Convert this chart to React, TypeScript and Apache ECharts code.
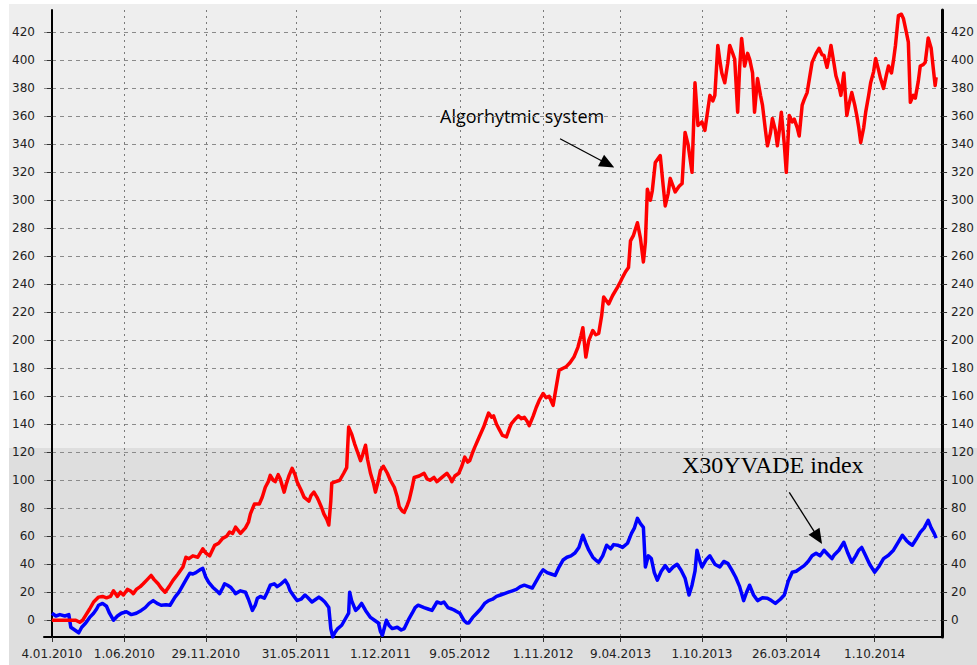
import React, { useEffect, useRef } from "react";
import * as echarts from "echarts";

// x = trading-session index (0 = 4.01.2010)
const tickPositions = [0, 73, 155, 246, 331, 411, 495, 573, 655, 740, 829];
const tickLabels = ["4.01.2010", "1.06.2010", "29.11.2010", "31.05.2011", "1.12.2011", "9.05.2012", "1.11.2012", "9.04.2013", "1.10.2013", "26.03.2014", "1.10.2014"];
const yTickValues = [0, 20, 40, 60, 80, 100, 120, 140, 160, 180, 200, 220, 240, 260, 280, 300, 320, 340, 360, 380, 400, 420];

// Algorithmic system (red)
const algoSession = [
  0, 8, 16, 24, 28, 31, 34, 38, 42, 47,
  51, 55, 59, 62, 66, 69, 72, 76, 79, 82,
  85, 89, 92, 96, 100, 103, 107, 110, 114, 118,
  122, 127, 132, 135, 138, 142, 147, 152, 155, 159,
  164, 168, 172, 176, 179, 182, 185, 190, 195, 198,
  200, 204, 209, 212, 215, 218, 220, 223, 225, 228,
  230, 234, 236, 239, 242, 245, 247, 251, 254, 259,
  261, 264, 267, 269, 272, 274, 277, 279, 281, 282,
  286, 290, 294, 297, 299, 302, 305, 308, 311, 313,
  316, 318, 321, 324, 326, 329, 331, 334, 338, 341,
  345, 348, 350, 353, 355, 358, 360, 363, 365, 370,
  375, 378, 381, 385, 388, 393, 398, 401, 403, 406,
  410, 413, 416, 419, 421, 424, 426, 430, 435, 438,
  440, 443, 445, 448, 451, 454, 458, 461, 463, 466,
  470, 473, 476, 479, 481, 485, 488, 491, 495, 498,
  501, 505, 508, 511, 515, 518, 522, 526, 530, 533,
  535, 538, 541, 545, 548, 551, 554, 556, 561, 565,
  570, 573, 575, 578, 581, 583, 586, 590, 593, 596,
  598, 600, 603, 605, 608, 611, 613, 616, 618, 621,
  623, 626, 628, 632, 635, 638, 641, 645, 648, 651,
  655, 658, 661, 663, 666, 668, 671, 673, 675, 678,
  681, 683, 686, 688, 691, 693, 695, 698, 701, 703,
  706, 708, 711, 714, 716, 719, 721, 724, 726, 729,
  731, 733, 735, 738, 740, 743, 746, 748, 751, 753,
  756, 758, 761, 764, 766, 770, 773, 776, 778, 781,
  783, 785, 788, 790, 793, 795, 798, 801, 803, 806,
  809, 811, 813, 815, 818, 820, 823, 825, 828, 830,
  833, 835, 838, 841, 843, 846, 848, 850, 852, 853,
  856, 858, 861, 863, 865, 868, 870, 873, 875, 878,
  880, 882, 883, 886, 888, 890, 891,
];
const algoValue = [
  0, 0, 0, 0, -1.5, 0, 3.5, 8, 13, 16.5,
  17, 16, 17, 21, 17, 20, 18, 22, 21, 19,
  22, 24, 26, 29, 32, 29, 26, 23, 20, 24,
  28.5, 33, 38, 45, 44, 46, 45, 51, 48, 46,
  53.5, 55, 58.5, 60, 63, 62, 66.5, 62, 66, 70,
  76, 83, 83, 88, 95, 99, 103.5, 100, 99, 104,
  101, 91.5, 97, 103.5, 108.5, 104, 99, 93, 88, 85,
  89, 91.5, 88, 85, 80, 76, 72, 68, 85, 98,
  99, 100, 105, 109, 138, 133, 126, 120, 114, 118,
  125, 115, 105, 98, 91.5, 100, 107, 110, 105, 100,
  95, 88, 81, 78, 77, 82, 86, 95, 102, 103,
  105, 101, 100, 102, 99, 102, 105, 102, 99, 103,
  105, 110, 116.5, 113, 114, 120, 123.5, 130, 138, 144,
  148, 145, 146, 140, 136, 132, 131, 137, 140.5, 143,
  146, 144, 145, 142, 139, 146, 152, 157, 162, 159,
  160, 153.5, 166, 178.5, 180, 181, 184, 188, 195, 203,
  209, 188, 200, 207, 204, 205, 218, 231, 226, 232,
  238, 242, 245, 249, 252, 271, 275, 284, 273, 256,
  270, 308, 300, 307, 327, 330, 332, 310, 296, 305,
  315.7, 310, 306, 310, 312, 348.5, 340, 320, 384, 353.5,
  356, 350, 365, 375, 371, 375, 410.7, 400, 391, 384,
  398, 410.7, 405, 401, 363, 395, 415.7, 396, 405, 401,
  391, 363, 387, 375, 368, 350, 339, 348, 358.5, 350,
  339, 350, 363, 340, 320, 360.7, 356, 358, 352, 346,
  368, 372, 377, 390, 398.6, 405, 408.6, 404, 403.6, 395,
  402, 410.7, 398, 389, 382, 375, 391, 360.7, 368, 377,
  368, 360.7, 352, 341.4, 352, 363, 375, 384, 392, 401.4,
  393, 387, 380, 390, 396, 391, 400, 410.7, 425, 432,
  433, 430, 420, 413, 370, 375, 373, 385, 396, 397,
  398.6, 410, 416, 408.6, 395, 382, 388,
];

// X30YVADE index (blue)
const indexSession = [
  0, 4, 8, 13, 17, 19, 23, 27, 30, 34,
  38, 42, 45, 47, 51, 55, 58, 62, 66, 70,
  75, 80, 85, 90, 94, 98, 102, 106, 110, 115,
  119, 124, 128, 132, 136, 139, 142, 145, 149, 152,
  155, 158, 162, 166, 169, 172, 174, 177, 180, 183,
  185, 190, 195, 198, 202, 205, 207, 210, 214, 217,
  220, 224, 227, 231, 235, 238, 240, 244, 247, 251,
  255, 258, 262, 266, 269, 272, 275, 279, 281, 283,
  285, 288, 292, 296, 299, 300, 302, 306, 309, 312,
  316, 321, 325, 329, 331, 333, 337, 340, 343, 348,
  352, 355, 359, 363, 366, 369, 375, 379, 383, 388,
  392, 395, 399, 403, 406, 411, 415, 418, 420, 424,
  428, 432, 436, 440, 444, 448, 452, 456, 460, 464,
  468, 472, 476, 480, 484, 488, 492, 495, 499, 503,
  507, 511, 515, 519, 523, 527, 531, 535, 538, 541,
  545, 548, 551, 555, 559, 563, 566, 570, 575, 580,
  584, 587, 590, 593, 596, 598, 601, 604, 607, 610,
  614, 618, 622, 626, 630, 634, 638, 642, 645, 648,
  650, 653, 655, 659, 663, 668, 673, 677, 681, 685,
  689, 693, 697, 700, 703, 707, 711, 716, 721, 725,
  729, 734, 738, 742, 746, 750, 754, 758, 762, 766,
  770, 774, 778, 782, 786, 788, 793, 798, 802, 806,
  810, 813, 816, 820, 824, 829, 833, 838, 843, 848,
  853, 857, 861, 864, 867, 871, 875, 879, 883, 886,
  889, 891,
];
const indexValue = [
  5, 3, 4, 3, 4, -5, -7, -9, -5, -2,
  2, 5, 8, 10.7, 12, 10, 5, 0, 3, 5,
  6, 4, 5, 7, 9, 12, 14, 12, 10.7, 11,
  10.7, 16.5, 20, 25, 30, 33.6, 33, 34, 36, 37,
  30.7, 27, 23.6, 21, 19, 23, 26, 25, 23.6, 21,
  19, 21, 20, 15, 7, 11, 15.7, 17, 15.7, 20,
  25, 26, 24, 26, 28.6, 25, 21, 17, 14, 15,
  18, 16, 13, 15, 16.5, 15, 13, 9, -6, -12,
  -9, -6, -3.6, 1.4, 5, 20, 14, 7, 9, 12,
  7, 2, 0, -2, -8, -10.7, 0, -4, -6, -5,
  -7, -6, 0, 5, 9, 10.7, 9, 8, 7, 13,
  12, 13, 9, 8, 7, 5, 0, -2, -2, 2,
  5, 8, 12, 14, 15, 17, 18, 19, 20, 21,
  22, 24, 25, 24, 23, 28, 33, 36, 34, 33,
  32, 38, 43, 45, 46, 48, 52, 60.7, 55, 50,
  45, 43, 41.4, 46, 53.6, 51, 54, 53.6, 52, 55,
  62, 66, 72.8, 69, 66.4, 38, 46, 44, 34, 28.6,
  35, 39, 35, 38, 40, 35.7, 30, 18, 25, 35,
  50, 42, 38, 43, 46, 40, 38, 42, 40.7, 36,
  30.7, 24, 14, 20, 25, 18, 14, 16, 15.7, 14,
  12, 15, 18, 28, 34.3, 35, 37, 39, 42, 46,
  47.8, 46, 50, 47, 44, 46.4, 50, 55.7, 48, 41.4,
  46, 50, 52, 46, 40, 34.3, 38, 44, 46.4, 50,
  56, 60.7, 57, 55, 53.6, 58, 62.8, 66, 71.4, 66,
  62, 58.6,
];

const algoLabel = "Algorhytmic system";
const indexLabel = "X30YVADE index";

export default function App() {
  const ref = useRef<HTMLDivElement>(null);
  useEffect(() => {
    if (!ref.current) return;
    const chart = echarts.init(ref.current, null, { renderer: "svg" });
    const labelOf = (v: number) => {
      const i = tickPositions.indexOf(Math.round(v));
      return i >= 0 ? tickLabels[i] : "";
    };
    const axisText = { fontFamily: "DejaVu Sans", fontSize: 12, color: "#222" };
    const yBase = {
      type: "value",
      min: -12,
      max: 436,
      axisTick: { show: true, customValues: yTickValues, length: 5, lineStyle: { color: "#333" } },
      axisLabel: { customValues: yTickValues, ...axisText, margin: 9 },
    };
    chart.setOption({
      animation: false,
      grid: { left: 35, right: 28, top: 6, bottom: 28 },
      xAxis: {
        type: "value",
        min: -8,
        max: 897,
        axisLine: { show: true, onZero: false, lineStyle: { color: "#000", width: 2 } },
        axisTick: { show: true, customValues: tickPositions, length: 5, lineStyle: { color: "#333" } },
        axisLabel: { customValues: tickPositions, formatter: labelOf, ...axisText, margin: 11 },
        splitLine: { show: true, lineStyle: { color: "#7a7a7a", type: [2, 4], width: 1 } },
      },
      yAxis: [
        {
          ...yBase,
          position: "left",
          axisLine: { show: true, lineStyle: { color: "#000", width: 2 } },
          splitLine: { show: true, lineStyle: { color: "#8a8a8a", type: [4, 4], width: 1 } },
        },
        {
          ...yBase,
          position: "right",
          axisLine: { show: true, lineStyle: { color: "#000", width: 3 } },
          splitLine: { show: false },
        },
      ],
      series: [
        {
          type: "line",
          name: algoLabel,
          data: algoSession.map((s, i) => [s, algoValue[i]]),
          showSymbol: false,
          lineStyle: { color: "#ff0000", width: 3.5, join: "round" },
          itemStyle: { color: "#ff0000" },
          z: 3,
          markLine: {
            silent: true,
            symbol: ["none", "triangle"],
            symbolSize: [13, 15],
            label: { show: false },
            lineStyle: { color: "#000", width: 1.3, type: "solid" },
            itemStyle: { color: "#000" },
            data: [[{ coord: [512, 344] }, { coord: [560, 326] }]],
          },
        },
        {
          type: "line",
          name: indexLabel,
          data: indexSession.map((s, i) => [s, indexValue[i]]),
          showSymbol: false,
          lineStyle: { color: "#0000ff", width: 3.5, join: "round" },
          itemStyle: { color: "#0000ff" },
          z: 2,
          markLine: {
            silent: true,
            symbol: ["none", "triangle"],
            symbolSize: [13, 15],
            label: { show: false },
            lineStyle: { color: "#000", width: 1.3, type: "solid" },
            itemStyle: { color: "#000" },
            data: [[{ coord: [743, 91.4] }, { coord: [772, 59] }]],
          },
        },
      ],
      graphic: [
        {
          type: "text",
          left: 431,
          top: 103,
          style: { text: algoLabel, fontFamily: "Open Sans", fontSize: 18, fill: "#000" },
        },
        {
          type: "text",
          left: 673,
          top: 449,
          style: { text: indexLabel, fontFamily: "Liberation Serif", fontSize: 24, fill: "#000" },
        },
      ],
    });
    return () => chart.dispose();
  }, []);
  return (
    <div
      ref={ref}
      style={{
        position: "absolute",
        left: 9,
        top: 4,
        width: 968,
        height: 661,
        background: "linear-gradient(to bottom, #eeeeee 0px, #eeeeee 444px, #dedede 444px, #dedede 100%)",
      }}
    />
  );
}
